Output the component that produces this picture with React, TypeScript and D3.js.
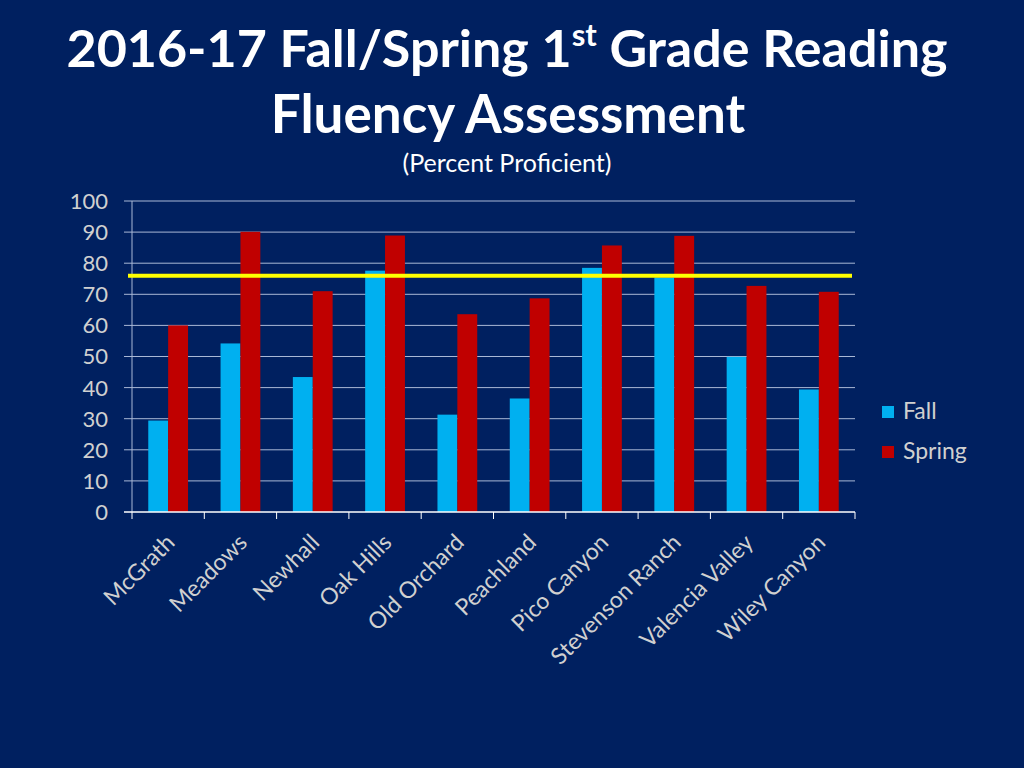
import React, { useEffect, useRef } from 'react'
import * as d3 from 'd3'

const schools = ['McGrath', 'Meadows', 'Newhall', 'Oak Hills', 'Old Orchard', 'Peachland', 'Pico Canyon', 'Stevenson Ranch', 'Valencia Valley', 'Wiley Canyon']
const fall = [29.4, 54.2, 43.4, 77.6, 31.3, 36.5, 78.5, 75.4, 49.9, 39.4]
const spring = [60.0, 90.1, 71.0, 88.9, 63.6, 68.7, 85.7, 88.8, 72.7, 70.8]
const seriesNames = ['Fall', 'Spring']
const yTicks = [0, 10, 20, 30, 40, 50, 60, 70, 80, 90, 100]
const target = 76

const App = () => {
  const chartRef = useRef<SVGSVGElement | null>(null)

  useEffect(() => {
    const width = 1024
    const height = 768
    const font = 'Lato, "Open Sans", sans-serif'
    const colors = d3.scaleOrdinal<string, string>().domain(seriesNames).range(['#00B0F0', '#C00000'])

    const svg = d3.select(chartRef.current)
    svg.selectAll('*').remove()

    svg.append('rect').attr('width', width).attr('height', height).attr('fill', '#002060')

    // titulo
    const t1 = svg.append('text')
      .attr('x', 507).attr('y', 67)
      .attr('text-anchor', 'middle')
      .attr('fill', '#fff')
      .attr('font-family', font)
      .attr('font-weight', 'bold')
      .attr('font-size', 52)
    t1.append('tspan').text('2016-17 Fall/Spring 1')
    t1.append('tspan').attr('font-size', 31).attr('dy', -21).text('st')
    t1.append('tspan').attr('dy', 21).text(' Grade Reading')

    svg.append('text')
      .attr('x', 508).attr('y', 133)
      .attr('text-anchor', 'middle')
      .attr('fill', '#fff')
      .attr('font-family', font)
      .attr('font-weight', 'bold')
      .attr('font-size', 53)
      .text('Fluency Assessment')

    svg.append('text')
      .attr('x', 507).attr('y', 172)
      .attr('text-anchor', 'middle')
      .attr('fill', '#fff')
      .attr('font-family', font)
      .attr('font-size', 25)
      .text('(Percent Proficient)')

    const x0 = d3.scaleBand<string>().domain(schools).range([132, 855]).paddingInner(0.45).paddingOuter(0.225)
    const x1 = d3.scaleBand<string>().domain(seriesNames).range([0, x0.bandwidth()])
    const y = d3.scaleLinear().domain([0, 100]).range([512, 201])

    // grid
    svg.append('g').selectAll('line').data(yTicks.filter((d) => d > 0)).enter().append('line')
      .attr('x1', 124).attr('x2', 855)
      .attr('y1', (d) => y(d)).attr('y2', (d) => y(d))
      .attr('stroke', '#A9B8D6').attr('stroke-width', 1)

    // y axis
    svg.append('line').attr('x1', 132).attr('x2', 132).attr('y1', y(100)).attr('y2', y(0))
      .attr('stroke', '#A9B8D6')

    svg.append('g').selectAll('text').data(yTicks).enter().append('text')
      .attr('x', 108).attr('y', (d) => y(d)).attr('dy', '0.36em')
      .attr('text-anchor', 'end')
      .attr('fill', '#D0D0D0')
      .attr('font-family', font)
      .attr('font-size', 22)
      .text((d) => d)

    // barras
    const data = schools.map((s, i) => ({ school: s, values: [fall[i], spring[i]] }))
    const groups = svg.append('g').selectAll('g').data(data).enter().append('g')
      .attr('transform', (d) => `translate(${x0(d.school)},0)`)
    groups.selectAll('rect').data((d) => d.values.map((v, j) => ({ key: seriesNames[j], value: v }))).enter().append('rect')
      .attr('x', (d) => x1(d.key) as number)
      .attr('width', x1.bandwidth())
      .attr('y', (d) => y(d.value))
      .attr('height', (d) => y(0) - y(d.value))
      .attr('fill', (d) => colors(d.key))

    // x axis
    svg.append('line').attr('x1', 124).attr('x2', 855).attr('y1', y(0)).attr('y2', y(0))
      .attr('stroke', '#fff').attr('stroke-width', 1.5)
    const step = x0.step()
    svg.append('g').selectAll('line').data(d3.range(schools.length + 1)).enter().append('line')
      .attr('x1', (i) => 132 + i * step).attr('x2', (i) => 132 + i * step)
      .attr('y1', y(0)).attr('y2', y(0) + 7)
      .attr('stroke', '#fff')

    svg.append('g').selectAll('text').data(schools).enter().append('text')
      .attr('transform', (d) => `translate(${(x0(d) as number) + x0.bandwidth() / 2 + 8},${y(0) + 32}) rotate(-45)`)
      .attr('text-anchor', 'end')
      .attr('fill', '#D0D0D0')
      .attr('font-family', font)
      .attr('font-size', 23)
      .text((d) => d)

    // linea meta
    svg.append('line')
      .attr('x1', 128).attr('x2', 852)
      .attr('y1', y(target)).attr('y2', y(target))
      .attr('stroke', '#FFFF00').attr('stroke-width', 4)

    // leyenda
    const legend = svg.append('g').selectAll('g').data(seriesNames).enter().append('g')
      .attr('transform', (d, i) => `translate(882,${406 + i * 40})`)
    legend.append('rect').attr('width', 12).attr('height', 12).attr('fill', (d) => colors(d))
    legend.append('text')
      .attr('x', 21).attr('y', 13)
      .attr('fill', '#D0D0D0')
      .attr('font-family', font)
      .attr('font-size', 23)
      .text((d) => d)
  }, [])

  return (
    <div style={{ position: 'absolute', left: 0, top: 0 }}>
      <svg ref={chartRef} width={1024} height={768}></svg>
    </div>
  )
}

export default App
